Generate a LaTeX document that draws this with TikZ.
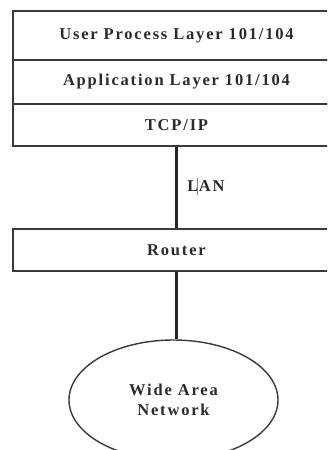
\documentclass[tikz,border=0pt]{standalone}
\usepackage{fontspec}
\usetikzlibrary{shapes.geometric}
\newfontfamily\labelfont[LetterSpace=11]{Liberation Serif}
\definecolor{inkc}{HTML}{2A2A2A}
\definecolor{edgec}{HTML}{3A3A3A}
\begin{document}
\begin{tikzpicture}[x=1pt,y=-1pt,
  layer/.style={draw=edgec, line width=1.8pt, rectangle, minimum width=327pt,
    inner sep=0pt, font=\labelfont\bfseries\fontsize{16.5}{19}\selectfont, text=inkc},
  cloud/.style={draw=edgec, line width=1.4pt, ellipse, minimum width=209pt,
    minimum height=120pt, inner sep=0pt, align=center,
    font=\labelfont\bfseries\fontsize{16.5}{20}\selectfont, text=inkc},
  link/.style={draw=black!85, line width=2.4pt},
  tag/.style={font=\labelfont\bfseries\fontsize{16.5}{19}\selectfont, text=inkc, inner sep=0pt}]
\useasboundingbox (0,0) rectangle (327,450);
\clip (0,0) rectangle (327,450);
% protocol stack
\node[layer, minimum height=49pt] (user) at (176.5,35.5) {User Process Layer 101/104};
\node[layer, minimum height=44pt] (app) at (176.5,82) {Application Layer 101/104};
\node[layer, minimum height=42pt] (tcp) at (176.5,125) {TCP/IP};
% router and wide area network
\node[layer, minimum height=42pt] (router) at (176.5,250) {Router};
\node[cloud] (wan) at (173.5,400) {Wide Area\\Network};
% links
\draw[link] (tcp.south) -- (router.north);
\draw[link] (router.south) -- (router.south |- wan.north);
\node[tag] (lan) at (206,186) {L\kern-1pt\textcolor{gray}{\rule[-3pt]{0.5pt}{17pt}}\kern1pt AN};
\end{tikzpicture}
\end{document}
